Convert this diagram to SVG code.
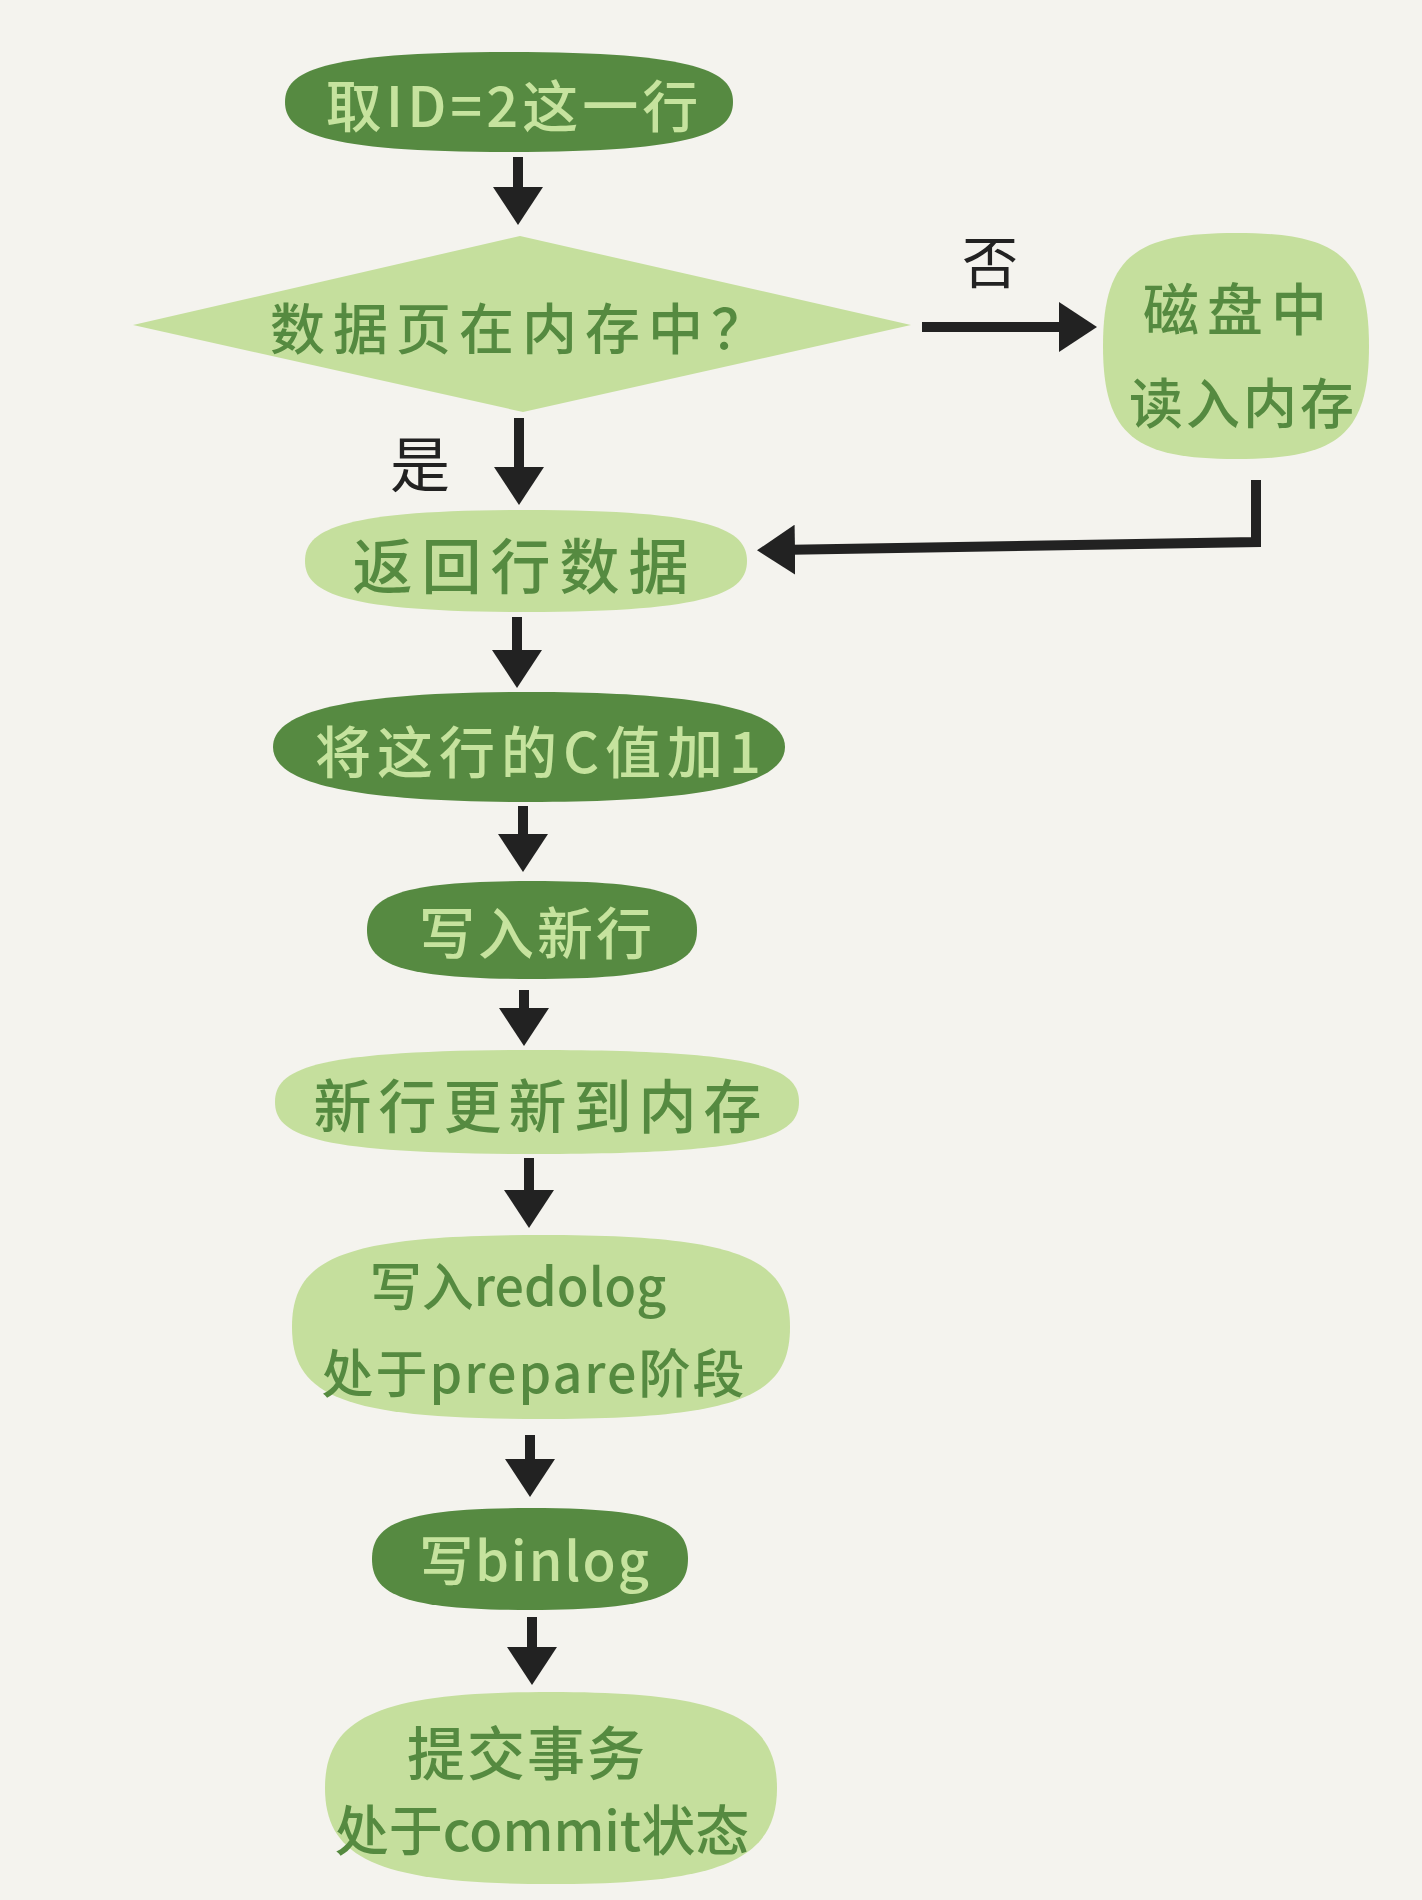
<svg xmlns="http://www.w3.org/2000/svg" width="1422" height="1900" viewBox="0 0 1422 1900">
<style>
.dark{fill:#568a41}
.light{fill:#c5df9d}
text{font-family:"Noto Sans CJK SC","Noto Sans",sans-serif;font-weight:500;text-anchor:middle;dominant-baseline:central}
.tl{fill:#558a40}
.td{fill:#c6e39e}
.lbl{fill:#222222;font-weight:400}
.arr{stroke:#222222;stroke-width:10;fill:none;stroke-linecap:butt;stroke-linejoin:miter;marker-end:url(#head)}
</style>
<defs>
<marker id="head" viewBox="0 0 38 50" markerWidth="38" markerHeight="50" refX="18" refY="25" orient="auto" markerUnits="userSpaceOnUse">
<path d="M0,0 L38,25 L0,50 Z" fill="#222222"/>
</marker>
</defs>
<rect width="1422" height="1900" fill="#f4f3ee"/>

<g id="connectors">
<line class="arr" x1="518" y1="157" x2="518" y2="205"/>
<line class="arr" x1="519" y1="418" x2="519" y2="485"/>
<line class="arr" x1="517" y1="617" x2="517" y2="668"/>
<line class="arr" x1="523" y1="806" x2="523" y2="852"/>
<line class="arr" x1="524" y1="990" x2="524" y2="1026"/>
<line class="arr" x1="529" y1="1158" x2="529" y2="1208"/>
<line class="arr" x1="530" y1="1435" x2="530" y2="1477"/>
<line class="arr" x1="532" y1="1617" x2="532" y2="1665"/>
<line class="arr" x1="922" y1="327" x2="1077" y2="327"/>
<polyline class="arr" points="1256,480 1256,542 777,550"/>
</g>

<g id="n1">
<path class="dark" d="M285,102 C285,72 318.6,52 509,52 C699.4,52 733,72 733,102 C733,132 699.4,152 509,152 C318.6,152 285,132 285,102Z"/>
<text class="td" x="514" y="102" font-size="56" letter-spacing="4">取ID=2这一行</text>
</g>

<g id="n2">
<polygon class="light" points="133,325 520,236 911,325 523,412"/>
<text class="tl" x="522" y="325" font-size="55" letter-spacing="8">数据页在内存中？</text>
</g>

<g id="n3">
<path class="light" d="M1103,346 C1103,255.6 1136.3,233 1236,233 C1335.8,233 1369,255.6 1369,346 C1369,436.4 1335.8,459 1236,459 C1136.3,459 1103,436.4 1103,346Z"/>
<text class="tl" x="1239" y="305" font-size="56" letter-spacing="8">磁盘中</text>
<text class="tl" x="1243" y="400" font-size="54" letter-spacing="3">读入内存</text>
</g>

<g id="n4">
<path class="light" d="M305,561 C305,530.4 338.2,510 526,510 C713.8,510 747,530.4 747,561 C747,591.6 713.8,612 526,612 C338.2,612 305,591.6 305,561Z"/>
<text class="tl" x="525" y="562" font-size="60" letter-spacing="9">返回行数据</text>
</g>

<g id="n5">
<path class="dark" d="M273,747 C273,714 337,692 529,692 C721,692 785,714 785,747 C785,780 721,802 529,802 C337,802 273,780 273,747Z"/>
<text class="td" x="541" y="748" font-size="56" letter-spacing="6">将这行的C值加1</text>
</g>

<g id="n6">
<path class="dark" d="M367,930 C367,895.7 400,881 532,881 C664,881 697,895.7 697,930 C697,964.3 664,979 532,979 C400,979 367,964.3 367,930Z"/>
<text class="td" x="537" y="929" font-size="56" letter-spacing="3">写入新行</text>
</g>

<g id="n7">
<path class="light" d="M275,1102 C275,1068.2 314.3,1050 537,1050 C759.7,1050 799,1068.2 799,1102 C799,1135.8 759.7,1154 537,1154 C314.3,1154 275,1135.8 275,1102Z"/>
<text class="tl" x="541" y="1103" font-size="58" letter-spacing="7">新行更新到内存</text>
</g>

<g id="n8">
<path class="light" d="M292,1327 C292,1258 341.8,1235 541,1235 C740.2,1235 790,1258 790,1327 C790,1396 740.2,1419 541,1419 C341.8,1419 292,1396 292,1327Z"/>
<text class="tl" x="518" y="1283" font-size="52">写入redolog</text>
<text class="tl" x="534" y="1370" font-size="52" letter-spacing="2">处于prepare阶段</text>
</g>

<g id="n9">
<path class="dark" d="M372,1559 C372,1523.3 403.6,1508 530,1508 C656.4,1508 688,1523.3 688,1559 C688,1594.7 656.4,1610 530,1610 C403.6,1610 372,1594.7 372,1559Z"/>
<text class="td" x="535" y="1557" font-size="54" letter-spacing="2">写binlog</text>
</g>

<g id="n10">
<path class="light" d="M325,1788 C325,1716 381.5,1692 551,1692 C720.5,1692 777,1716 777,1788 C777,1860 720.5,1884 551,1884 C381.5,1884 325,1860 325,1788Z"/>
<text class="tl" x="527" y="1750" font-size="58" letter-spacing="2">提交事务</text>
<text class="tl" x="542" y="1827" font-size="54">处于commit状态</text>
</g>

<g id="labels">
<text class="lbl" x="990" y="258" font-size="56">否</text>
<text class="lbl" x="420" y="460" font-size="60">是</text>
</g>
</svg>
